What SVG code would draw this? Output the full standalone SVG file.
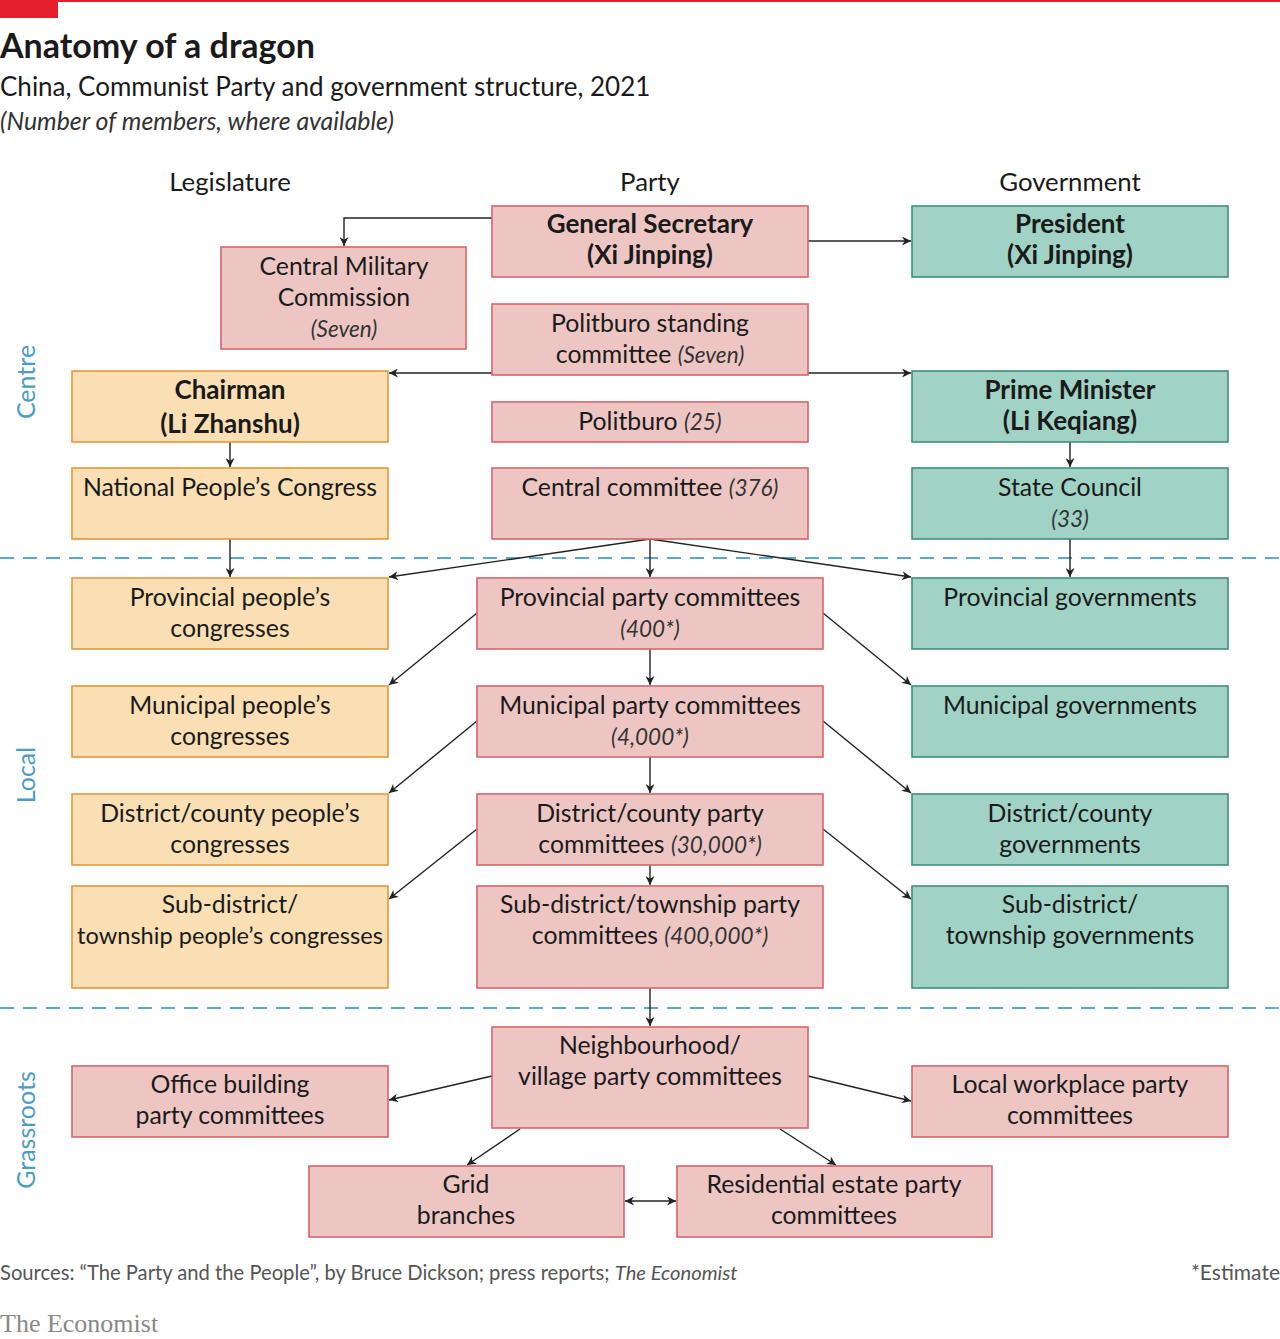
<svg xmlns="http://www.w3.org/2000/svg" width="1280" height="1339" viewBox="0 0 1280 1339">
<style>
text{font-family:"Lato","Liberation Sans",sans-serif;fill:#1a1a1a}
.t{font-size:24.8px;text-anchor:middle}
.b{font-weight:bold;font-size:26px}
.i{font-style:italic;fill:#333}
.hd{font-size:25.8px;text-anchor:middle}
.sec{font-size:25px;fill:#4b9cc4;text-anchor:middle}
.party{fill:#edc6c4;stroke:#d7646b;stroke-width:1.6}
.leg{fill:#fbdfb4;stroke:#e7973c;stroke-width:1.6}
.gov{fill:#a0d2c5;stroke:#3f8e7c;stroke-width:1.6}
.c{fill:none;stroke:#222;stroke-width:1.4}
.dash{stroke:#5aa6cd;stroke-width:1.8;stroke-dasharray:14 9;fill:none}
</style>
<defs>
<marker id="ah" viewBox="0 0 10 10" refX="10" refY="5" markerWidth="9" markerHeight="9" markerUnits="userSpaceOnUse" orient="auto-start-reverse">
<path d="M0,0 L10,5 L0,10 L3,5 z" fill="#222"/>
</marker>
</defs>
<rect width="1280" height="1339" fill="#fff"/>
<rect x="0" y="0" width="1280" height="2" fill="#e3202b"/>
<rect x="0" y="0" width="58" height="18" fill="#e3202b"/>
<text x="0" y="58" style="font-size:34px;font-weight:bold">Anatomy of a dragon</text>
<text x="0" y="96" style="font-size:26px">China, Communist Party and government structure, 2021</text>
<text x="0" y="130" style="font-size:24.9px;font-style:italic;fill:#333">(Number of members, where available)</text>

<text class="hd" x="230" y="191">Legislature</text>
<text class="hd" x="650" y="191">Party</text>
<text class="hd" x="1070" y="191">Government</text>

<text class="sec" transform="translate(35,382) rotate(-90)">Centre</text>
<text class="sec" transform="translate(35,775) rotate(-90)">Local</text>
<text class="sec" transform="translate(35,1130) rotate(-90)">Grassroots</text>

<line class="dash" x1="0" y1="558" x2="1280" y2="558"/>
<line class="dash" x1="0" y1="1008" x2="1280" y2="1008"/>

<g id="connectors">
<path class="c" d="M492,218 H344 V246" marker-end="url(#ah)"/>
<path class="c" d="M808,241 H911" marker-end="url(#ah)"/>
<path class="c" d="M492,373 H389" marker-end="url(#ah)"/>
<path class="c" d="M808,373 H911" marker-end="url(#ah)"/>
<path class="c" d="M230,442 V467" marker-end="url(#ah)"/>
<path class="c" d="M1070,442 V467" marker-end="url(#ah)"/>
<path class="c" d="M230,539 V577" marker-end="url(#ah)"/>
<path class="c" d="M1070,539 V577" marker-end="url(#ah)"/>
<path class="c" d="M650,539 V577" marker-end="url(#ah)"/>
<path class="c" d="M650,539 L389,577" marker-end="url(#ah)"/>
<path class="c" d="M650,539 L911,577" marker-end="url(#ah)"/>
<path class="c" d="M477,613 L389,685" marker-end="url(#ah)"/>
<path class="c" d="M823,613 L911,685" marker-end="url(#ah)"/>
<path class="c" d="M650,649 V685" marker-end="url(#ah)"/>
<path class="c" d="M477,721 L389,793" marker-end="url(#ah)"/>
<path class="c" d="M823,721 L911,793" marker-end="url(#ah)"/>
<path class="c" d="M650,757 V793" marker-end="url(#ah)"/>
<path class="c" d="M477,829 L389,899" marker-end="url(#ah)"/>
<path class="c" d="M823,829 L911,899" marker-end="url(#ah)"/>
<path class="c" d="M650,865 V885" marker-end="url(#ah)"/>
<path class="c" d="M650,988 V1026" marker-end="url(#ah)"/>
<path class="c" d="M492,1076 L389,1100" marker-end="url(#ah)"/>
<path class="c" d="M808,1076 L911,1101" marker-end="url(#ah)"/>
<path class="c" d="M520,1129 L467,1165" marker-end="url(#ah)"/>
<path class="c" d="M780,1129 L836,1165" marker-end="url(#ah)"/>
<path class="c" d="M625,1201 H676" marker-start="url(#ah)" marker-end="url(#ah)"/>
</g>

<g id="gensec"><rect class="party" x="492" y="206" width="316" height="71"/>
<text class="t b" x="650" y="233">General Secretary</text><text class="t b" x="650" y="264">(Xi Jinping)</text></g>
<g id="president"><rect class="gov" x="912" y="206" width="316" height="71"/>
<text class="t b" x="1070" y="233">President</text><text class="t b" x="1070" y="264">(Xi Jinping)</text></g>
<g id="cmc"><rect class="party" x="221" y="247" width="245" height="102"/>
<text class="t" x="344" y="275">Central Military</text><text class="t" x="344" y="306">Commission</text><text class="t i" x="344" y="337" style="font-size:22.5px">(Seven)</text></g>
<g id="psc"><rect class="party" x="492" y="304" width="316" height="71"/>
<text class="t" x="650" y="332">Politburo standing</text><text class="t" x="650" y="363">committee <tspan class="i" style="font-size:22.5px">(Seven)</tspan></text></g>
<g id="chairman"><rect class="leg" x="72" y="371" width="316" height="71"/>
<text class="t b" x="230" y="399">Chairman</text><text class="t b" x="230" y="433">(Li Zhanshu)</text></g>
<g id="pm"><rect class="gov" x="912" y="371" width="316" height="71"/>
<text class="t b" x="1070" y="399">Prime Minister</text><text class="t b" x="1070" y="430">(Li Keqiang)</text></g>
<g id="politburo"><rect class="party" x="492" y="402" width="316" height="40"/>
<text class="t" x="650" y="430">Politburo <tspan class="i" style="font-size:22.5px">(25)</tspan></text></g>
<g id="npc"><rect class="leg" x="72" y="468" width="316" height="71"/>
<text class="t" x="230" y="496">National People’s Congress</text></g>
<g id="cc"><rect class="party" x="492" y="468" width="316" height="71"/>
<text class="t" x="650" y="496">Central committee <tspan class="i" style="font-size:22.5px">(376)</tspan></text></g>
<g id="sc"><rect class="gov" x="912" y="468" width="316" height="71"/>
<text class="t" x="1070" y="496">State Council</text><text class="t i" x="1070" y="527" style="font-size:22.5px">(33)</text></g>

<g id="prov-leg"><rect class="leg" x="72" y="578" width="316" height="71"/>
<text class="t" x="230" y="606">Provincial people’s</text><text class="t" x="230" y="637">congresses</text></g>
<g id="prov-party"><rect class="party" x="477" y="578" width="346" height="71"/>
<text class="t" x="650" y="606">Provincial party committees</text><text class="t i" x="650" y="637" style="font-size:22.5px">(400*)</text></g>
<g id="prov-gov"><rect class="gov" x="912" y="578" width="316" height="71"/>
<text class="t" x="1070" y="606">Provincial governments</text></g>

<g id="mun-leg"><rect class="leg" x="72" y="686" width="316" height="71"/>
<text class="t" x="230" y="714">Municipal people’s</text><text class="t" x="230" y="745">congresses</text></g>
<g id="mun-party"><rect class="party" x="477" y="686" width="346" height="71"/>
<text class="t" x="650" y="714">Municipal party committees</text><text class="t i" x="650" y="745" style="font-size:22.5px">(4,000*)</text></g>
<g id="mun-gov"><rect class="gov" x="912" y="686" width="316" height="71"/>
<text class="t" x="1070" y="714">Municipal governments</text></g>

<g id="dist-leg"><rect class="leg" x="72" y="794" width="316" height="71"/>
<text class="t" x="230" y="822">District/county people’s</text><text class="t" x="230" y="853">congresses</text></g>
<g id="dist-party"><rect class="party" x="477" y="794" width="346" height="71"/>
<text class="t" x="650" y="822">District/county party</text><text class="t" x="650" y="853">committees <tspan class="i" style="font-size:22.5px">(30,000*)</tspan></text></g>
<g id="dist-gov"><rect class="gov" x="912" y="794" width="316" height="71"/>
<text class="t" x="1070" y="822">District/county</text><text class="t" x="1070" y="853">governments</text></g>

<g id="sub-leg"><rect class="leg" x="72" y="886" width="316" height="102"/>
<text class="t" x="230" y="913">Sub-district/</text><text class="t" x="230" y="944" style="font-size:23.6px">township people’s congresses</text></g>
<g id="sub-party"><rect class="party" x="477" y="886" width="346" height="102"/>
<text class="t" x="650" y="913">Sub-district/township party</text><text class="t" x="650" y="944">committees <tspan class="i" style="font-size:22.5px">(400,000*)</tspan></text></g>
<g id="sub-gov"><rect class="gov" x="912" y="886" width="316" height="102"/>
<text class="t" x="1070" y="913">Sub-district/</text><text class="t" x="1070" y="944">township governments</text></g>

<g id="neigh"><rect class="party" x="492" y="1027" width="316" height="101"/>
<text class="t" x="650" y="1054">Neighbourhood/</text><text class="t" x="650" y="1085">village party committees</text></g>
<g id="office"><rect class="party" x="72" y="1066" width="316" height="71"/>
<text class="t" x="230" y="1093">Office building</text><text class="t" x="230" y="1124">party committees</text></g>
<g id="workplace"><rect class="party" x="912" y="1066" width="316" height="71"/>
<text class="t" x="1070" y="1093">Local workplace party</text><text class="t" x="1070" y="1124">committees</text></g>
<g id="grid"><rect class="party" x="309" y="1166" width="315" height="71"/>
<text class="t" x="466" y="1193">Grid</text><text class="t" x="466" y="1224">branches</text></g>
<g id="resid"><rect class="party" x="677" y="1166" width="315" height="71"/>
<text class="t" x="834" y="1193">Residential estate party</text><text class="t" x="834" y="1224">committees</text></g>

<text x="0" y="1280" style="font-size:20.2px;fill:#555">Sources: “The Party and the People”, by Bruce Dickson; press reports; <tspan font-style="italic">The Economist</tspan></text>
<text x="1280" y="1280" style="font-size:21px;fill:#555;text-anchor:end">*Estimate</text>
<text x="0" y="1332" style="font-family:'Liberation Serif',serif;font-size:26px;fill:#888">The Economist</text>
</svg>
